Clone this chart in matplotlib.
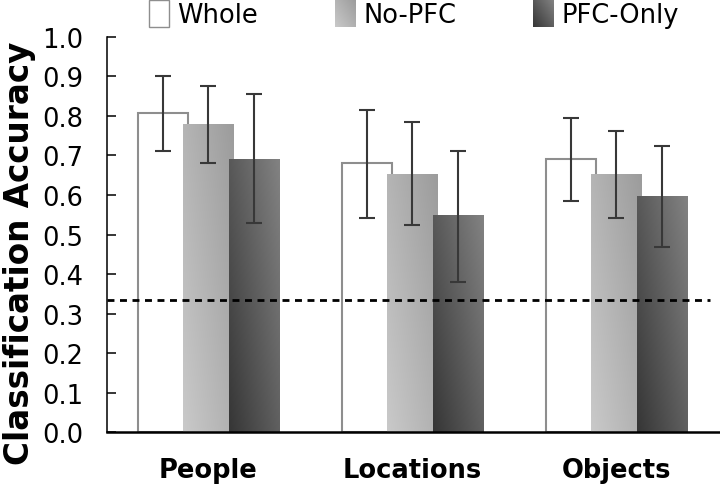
import numpy as np
import matplotlib
matplotlib.use("Agg")
from matplotlib import pyplot as plt
from matplotlib.colors import LinearSegmentedColormap
from matplotlib.patches import Patch
from matplotlib.legend_handler import HandlerBase
from matplotlib.image import BboxImage
from matplotlib.transforms import Bbox, TransformedBbox

categories = ["People", "Locations", "Objects"]
series = ["Whole", "No-PFC", "PFC-Only"]

whole = [0.808, 0.681, 0.691]
whole_lo = [0.711, 0.542, 0.585]
whole_hi = [0.902, 0.815, 0.795]

nopfc = [0.778, 0.653, 0.651]
nopfc_lo = [0.681, 0.524, 0.542]
nopfc_hi = [0.876, 0.785, 0.762]

pfc = [0.691, 0.547, 0.595]
pfc_lo = [0.529, 0.380, 0.468]
pfc_hi = [0.855, 0.711, 0.725]

chance = 1.0 / 3.0
yticks = [0.0, 0.1, 0.2, 0.3, 0.4, 0.5, 0.6, 0.7, 0.8, 0.9, 1.0]

plt.rcParams['font.family'] = ['DejaVu Sans']
plt.rcParams['lines.scale_dashes'] = False

cmap_nopfc = LinearSegmentedColormap.from_list("nopfc", ["#c9c9c9", "#9c9c9c"])
cmap_pfc = LinearSegmentedColormap.from_list("pfc", ["#363636", "#828282"])

# diagonal gradient, light/dark at bottom-left
u = np.linspace(0, 1, 64)
grad = 0.55 * u[None, :] + 0.45 * u[:, None]

fig = plt.figure(figsize=(7.2, 4.89), dpi=100)
ax = fig.add_axes([0.1486, 0.1145, 0.8514, 0.8078])

x = np.arange(len(categories))
w = 0.245
off = 0.223
ecol = "#383838"


def errs(vals, lo, hi):
    vals = np.array(vals)
    return [vals - np.array(lo), np.array(hi) - vals]


ax.bar(x - off, whole, w, facecolor="white", edgecolor="#8e8e8e", linewidth=1.5, zorder=2)


def gradient_bars(xpos, vals, cmap, z):
    bars = ax.bar(xpos, vals, w, color="none", linewidth=0, zorder=z)
    for b in bars:
        x0, y0 = b.get_x(), b.get_y()
        ax.imshow(grad, extent=[x0, x0 + b.get_width(), y0, y0 + b.get_height()],
                  origin="lower", cmap=cmap, vmin=0, vmax=1, aspect="auto",
                  interpolation="bilinear", zorder=z)
    return bars


gradient_bars(x, nopfc, cmap_nopfc, 3)
gradient_bars(x + off, pfc, cmap_pfc, 4)

for xp, v, lo, hi in [(x - off, whole, whole_lo, whole_hi),
                      (x, nopfc, nopfc_lo, nopfc_hi),
                      (x + off, pfc, pfc_lo, pfc_hi)]:
    ax.errorbar(xp, v, yerr=errs(v, lo, hi), fmt="none", ecolor=ecol,
                elinewidth=1.5, capsize=5.5, capthick=1.5, zorder=6)

ax.axhline(chance, xmin=0, xmax=0.984, color="black", linewidth=2.0,
           dashes=(5, 4), zorder=7)

ax.set_xlim(-0.495, 2.507)
ax.set_ylim(0, 1.0)
ax.set_yticks(yticks)
ax.set_yticklabels(["%.1f" % t for t in yticks])
ax.set_xticks(x)
ax.set_xticklabels(categories, fontweight="bold")

for s in ["top", "right"]:
    ax.spines[s].set_visible(False)
ax.spines["left"].set_linewidth(1.1)
ax.spines["bottom"].set_linewidth(1.8)
ax.spines["bottom"].set_zorder(8)

ax.tick_params(axis="y", direction="in", length=6.5, width=1.1, labelsize=18.5, pad=17)
ax.tick_params(axis="x", length=0, labelsize=18.5, pad=18)

ax.set_ylabel("Classification Accuracy", fontsize=23.5, fontweight="bold", va="center")
ax.yaxis.set_label_coords(-0.1420, 0.455)


class HandlerGradient(HandlerBase):
    def __init__(self, cmap):
        super().__init__()
        self.cmap = cmap

    def create_artists(self, legend, orig_handle, xdescent, ydescent,
                       width, height, fontsize, trans):
        bb = TransformedBbox(Bbox.from_bounds(-xdescent, -ydescent, width, height), trans)
        img = BboxImage(bb, cmap=self.cmap, norm=plt.Normalize(0, 1), interpolation="bilinear")
        img.set_data(grad[::-1])
        return [img]


h_whole = Patch(facecolor="white", edgecolor="#8e8e8e", linewidth=1.0)
h_nopfc = Patch(facecolor="#b0b0b0")
h_pfc = Patch(facecolor="#5a5a5a")
fig.legend([h_whole, h_nopfc, h_pfc], series, loc="center",
           bbox_to_anchor=(414 / 720, 0.969), ncol=3, frameon=False,
           fontsize=18.5, handlelength=0.81, handleheight=1.2,
           handletextpad=0.31, columnspacing=2.98, borderpad=0, borderaxespad=0,
           handler_map={h_nopfc: HandlerGradient(cmap_nopfc), h_pfc: HandlerGradient(cmap_pfc)})

fig.savefig("out.png", dpi=100)
